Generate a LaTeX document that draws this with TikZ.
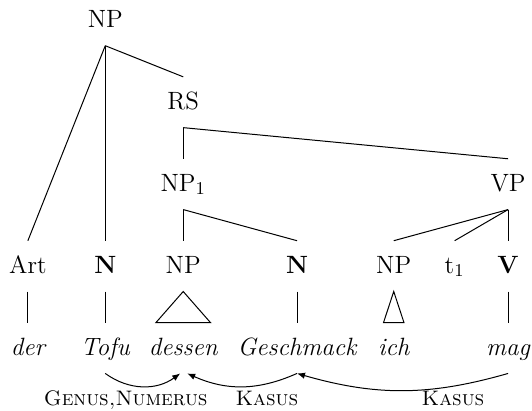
\documentclass[tikz,border=0pt]{standalone}
\usepackage{tikz}
\usetikzlibrary{arrows.meta, calc}

\begin{document}
\begin{tikzpicture}[
        % Define styles
        cat/.style={anchor=base, inner xsep=1pt, inner ysep=0pt, text height=16pt, text depth=9pt, font=\fontsize{12.5}{15}\selectfont},
        word/.style={cat, font=\fontsize{12.5}{15}\selectfont\itshape},
        feat/.style={anchor=base, inner sep=0pt, font=\fontsize{10.5}{12}\selectfont\scshape},
        branch/.style={line width=0.5pt},
        dep/.style={-{Latex[length=4pt, width=3.2pt]}, line width=0.5pt}
    ]
    \useasboundingbox (0,0) rectangle (9.35,7.22);

    % 1. Phrase nodes
    \node[cat] (np) at (1.85, 6.74) {NP};
    \node[cat] (rs) at (3.22, 5.30) {RS};
    \node[cat] (np1) at (3.22, 3.86) {NP$_1$};
    \node[cat] (vp) at (8.93, 3.86) {VP};

    % 2. Pre-terminals
    \node[cat] (art) at (0.49, 2.42) {Art};
    \node[cat] (n1) at (1.85, 2.42) {\textbf{N}};
    \node[cat] (npd) at (3.22, 2.42) {NP};
    \node[cat] (n2) at (5.22, 2.42) {\textbf{N}};
    \node[cat] (npi) at (6.92, 2.42) {NP};
    \node[cat] (tr) at (7.99, 2.42) {t$_1$};
    \node[cat] (v) at (8.93, 2.42) {\textbf{V}};

    % 3. Words
    \node[word] (der) at (0.49, 0.98) {der};
    \node[word] (tofu) at (1.85, 0.98) {Tofu};
    \node[word] (dessen) at (3.22, 0.98) {dessen};
    \node[word] (geschmack) at (5.22, 0.98) {Geschmack};
    \node[word] (ich) at (6.92, 0.98) {ich};
    \node[word] (mag) at (8.93, 0.98) {mag};

    % Branches
    \draw[branch] (np.south) -- (art.north);
    \draw[branch] (np.south) -- (n1.north);
    \draw[branch] (np.south) -- (rs.north);
    \draw[branch] (rs.south) -- (np1.north);
    \draw[branch] (rs.south) -- (vp.north);
    \draw[branch] (np1.south) -- (npd.north);
    \draw[branch] (np1.south) -- (n2.north);
    \draw[branch] (vp.south) -- (npi.north);
    \draw[branch] (vp.south) -- (tr.north);
    \draw[branch] (vp.south) -- (v.north);

    % Leaves (triangles for unanalysed NPs)
    \draw[branch] (art.south) -- (der.north);
    \draw[branch] (n1.south) -- (tofu.north);
    \draw[branch] (npd.south) -- ($(dessen.north)+(-0.48,0)$) -- ($(dessen.north)+(0.48,0)$) -- cycle;
    \draw[branch] (n2.south) -- (geschmack.north);
    \draw[branch] (npi.south) -- ($(ich.north)+(-0.18,0)$) -- ($(ich.north)+(0.18,0)$) -- cycle;
    \draw[branch] (v.south) -- (mag.north);

    % 4. Agreement and case arrows
    \draw[dep] (tofu.south) to[bend right=36] ([xshift=-1.5pt]dessen.south);
    \draw[dep] (geschmack.south) to[bend left=24] ([xshift=2pt]dessen.south);
    \draw[dep] (mag.south) to[bend left=16] (geschmack.south);

    \node[feat] (gn) at (2.21, 0.09) {Genus,Numerus};
    \node[feat] (kas1) at (4.69, 0.09) {Kasus};
    \node[feat] (kas2) at (7.96, 0.09) {Kasus};

\end{tikzpicture}
\end{document}
